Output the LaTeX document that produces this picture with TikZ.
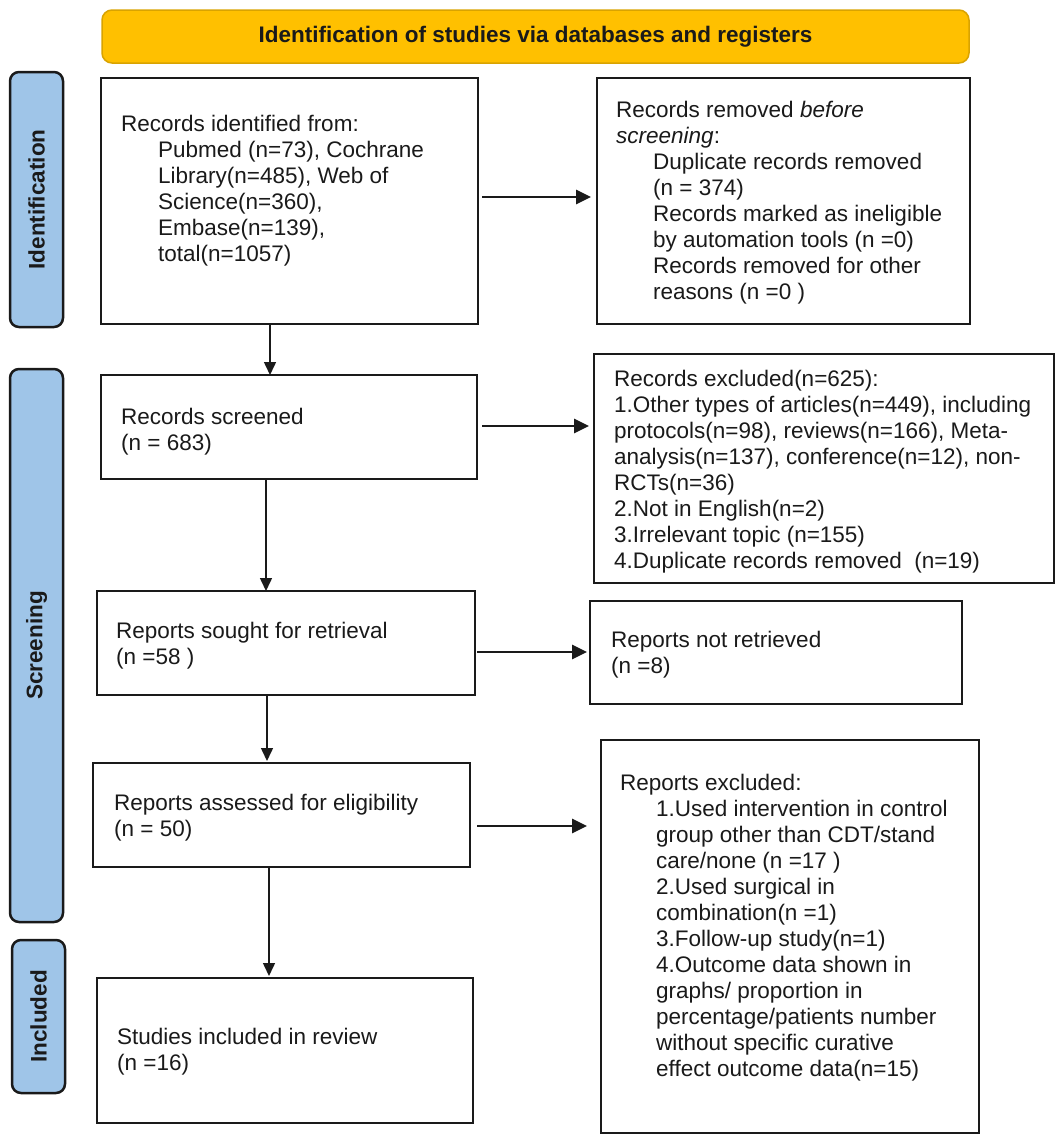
\documentclass[tikz,border=0pt]{standalone}
\usepackage{fontspec}
\setmainfont{Liberation Sans}
\usetikzlibrary{arrows.meta}
\definecolor{bannerfill}{HTML}{FFC000}
\definecolor{bannerline}{HTML}{D9A300}
\definecolor{sidefill}{HTML}{9FC5E8}
\definecolor{ink}{HTML}{1A1A1A}
\begin{document}
\begin{tikzpicture}[x=1pt,y=-1pt,
  box/.style={draw=ink, line width=2pt, anchor=north west, inner sep=0pt, outer sep=0pt, fill=white},
  txt/.style={anchor=north west, inner sep=0pt, align=left, font=\fontsize{22.5}{26}\selectfont, text=ink},
  side/.style={draw=ink, line width=2.5pt, fill=sidefill, rounded corners=9pt, rotate=90, inner sep=0pt,
    font=\bfseries\fontsize{22.5}{26}\selectfont, text=ink, minimum height=53pt},
  harr/.style={-{Triangle[length=15pt,width=14pt]}, line width=2.7pt, draw=ink},
  varr/.style={-{Triangle[length=13pt,width=12pt]}, line width=1.5pt, draw=ink},
]
\useasboundingbox (0,0) rectangle (1063,1143);

% banner
\node[draw=bannerline, line width=1.5pt, fill=bannerfill, rounded corners=10pt, minimum width=867pt, minimum height=53pt,
  inner sep=0pt, font=\bfseries\fontsize{22.5}{26}\selectfont, text=ink] (ban) at (535.5,36.5)
  {Identification of studies via databases and registers};

% side bars
\node[side, minimum width=255pt] (sid) at (36.5,199.5) {Identification};
\node[side, minimum width=553pt] (sscr) at (36.5,645.5) {Screening};
\node[side, minimum width=153pt] (sinc) at (38.5,1016.5) {Included};

% boxes
\node[box, minimum width=377pt, minimum height=246pt] (b1) at (101,78) {};
\node[box, minimum width=373pt, minimum height=246pt] (b2) at (597,78) {};
\node[box, minimum width=376pt, minimum height=104pt] (b3) at (101,375) {};
\node[box, minimum width=460pt, minimum height=229pt] (b4) at (594,354) {};
\node[box, minimum width=378pt, minimum height=104pt] (b5) at (97,591) {};
\node[box, minimum width=372pt, minimum height=103pt] (b6) at (590,601) {};
\node[box, minimum width=377pt, minimum height=104pt] (b7) at (93,763) {};
\node[box, minimum width=378pt, minimum height=393pt] (b8) at (601,740) {};
\node[box, minimum width=376pt, minimum height=145pt] (b9) at (97,978) {};

% texts
\node[txt] (t1) at (121,113) {\strut Records identified from:\\
\hspace*{37pt}Pubmed (n=73), Cochrane\\
\hspace*{37pt}Library(n=485), Web of\\
\hspace*{37pt}Science(n=360),\\
\hspace*{37pt}Embase(n=139),\\
\hspace*{37pt}total(n=1057)};

\node[txt] (t2) at (616,99) {\strut Records removed \textit{before}\\
\textit{screening}:\\
\hspace*{37pt}Duplicate records removed\\
\hspace*{37pt}(n = 374)\\
\hspace*{37pt}Records marked as ineligible\\
\hspace*{37pt}by automation tools (n =0)\\
\hspace*{37pt}Records removed for other\\
\hspace*{37pt}reasons (n =0 )};

\node[txt] (t3) at (121,406) {\strut Records screened\\(n = 683)};

\node[txt] (t4) at (614,368) {\strut Records excluded(n=625):\\
1.Other types of articles(n=449), including\\
protocols(n=98), reviews(n=166), Meta-\\
analysis(n=137), conference(n=12), non-\\
RCTs(n=36)\\
2.Not in English(n=2)\\
3.Irrelevant topic (n=155)\\
4.Duplicate records removed\ \ (n=19)};

\node[txt] (t5) at (116,620) {\strut Reports sought for retrieval\\(n =58 )};
\node[txt] (t6) at (611,629) {\strut Reports not retrieved\\(n =8)};
\node[txt] (t7) at (114,792) {\strut Reports assessed for eligibility\\(n = 50)};

\node[txt] (t8) at (620,772) {\strut Reports excluded:\\
\hspace*{36pt}1.Used intervention in control\\
\hspace*{36pt}group other than CDT/stand\\
\hspace*{36pt}care/none (n =17 )\\
\hspace*{36pt}2.Used surgical in\\
\hspace*{36pt}combination(n =1)\\
\hspace*{36pt}3.Follow-up study(n=1)\\
\hspace*{36pt}4.Outcome data shown in\\
\hspace*{36pt}graphs/ proportion in\\
\hspace*{36pt}percentage/patients number\\
\hspace*{36pt}without specific curative\\
\hspace*{36pt}effect outcome data(n=15)};

\node[txt] (t9) at (117,1026) {\strut Studies included in review\\(n =16)};

% guide coordinates
\coordinate (vx1) at (270,0);
\coordinate (vx2) at (266,0);
\coordinate (vx3) at (267,0);
\coordinate (vx4) at (269,0);
\coordinate (hy1) at (0,197);
\coordinate (hy2) at (0,426);
\coordinate (hy3) at (0,652);
\coordinate (hy4) at (0,826);

% vertical arrows
\draw[varr] (b1.south -| vx1) -- (b3.north -| vx1);
\draw[varr] (b3.south -| vx2) -- (b5.north -| vx2);
\draw[varr, shorten >=2pt] (b5.south -| vx3) -- (b7.north -| vx3);
\draw[varr, shorten >=2pt] (b7.south -| vx4) -- (b9.north -| vx4);

% horizontal arrows
\draw[harr, shorten <=4pt, shorten >=6pt] (b1.east |- hy1) -- (b2.west |- hy1);
\draw[harr, shorten <=5pt, shorten >=5pt] (b3.east |- hy2) -- (b4.west |- hy2);
\draw[harr, shorten <=2pt, shorten >=3pt] (b5.east |- hy3) -- (b6.west |- hy3);
\draw[harr, shorten <=7pt, shorten >=14pt] (b7.east |- hy4) -- (b8.west |- hy4);
\end{tikzpicture}
\end{document}
